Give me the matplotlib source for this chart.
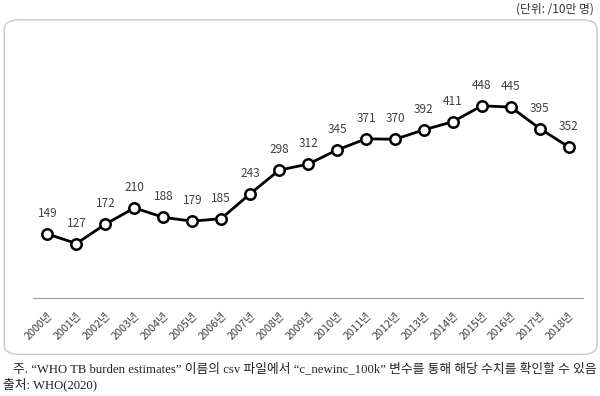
import matplotlib.pyplot as plt
from matplotlib.patches import FancyBboxPatch

plt.rcParams['font.family'] = ['Noto Sans CJK KR', 'DejaVu Sans']

years = [f"{y}년" for y in range(2000, 2019)]
values = [149, 127, 172, 210, 188, 179, 185, 243, 298, 312, 345, 371, 370, 392, 411, 448, 445, 395, 352]

fig = plt.figure(figsize=(6, 3.96), dpi=100)

# rounded frame around the chart (kept behind the axes)
box = FancyBboxPatch((0.007, 0.105), 0.988, 0.845, boxstyle="round,pad=0,rounding_size=0.025",
                     transform=fig.transFigure, facecolor="white", edgecolor="#c8c8c8",
                     linewidth=1.0, zorder=-5)
fig.patches.append(box)

ax = fig.add_axes([0.055, 0.2475, 0.917, 0.65], zorder=2)
x = list(range(len(values)))
ax.plot(x, values, color="black", linewidth=2, marker="o", markersize=7.5,
        markerfacecolor="white", markeredgecolor="black", markeredgewidth=1.8, zorder=3)
for xi, v in zip(x, values):
    ax.annotate(str(v), (xi, v), xytext=(0, 10), textcoords="offset points",
                ha="center", va="bottom", fontsize=8.5, color="#404040")

ax.set_xlim(-0.5, len(values) - 0.5)
ax.set_ylim(0, 600)
ax.set_xticks(x)
ax.set_xticklabels(years, rotation=45, ha="right", rotation_mode="anchor", fontsize=7.8, color="#404040")
ax.tick_params(axis="x", length=0, pad=9)
ax.set_yticks([])
for side in ["top", "right", "left"]:
    ax.spines[side].set_visible(False)
ax.spines["bottom"].set_color("#a0a0a0")
ax.patch.set_alpha(0)

fig.text(0.99, 0.978, "(단위: /10만 명)", ha="right", va="center", fontsize=8.5, color="#333333")
note_font = ['Liberation Serif', 'Noto Sans CJK KR']
fig.text(0.022, 0.068, "주. “WHO TB burden estimates” 이름의 csv 파일에서 “c_newinc_100k” 변수를 통해 해당 수치를 확인할 수 있음",
         ha="left", va="center", fontsize=9.2, family=note_font, color="#222222")
fig.text(0.005, 0.028, "출처: WHO(2020)", ha="left", va="center", fontsize=9.2, family=note_font, color="#222222")

fig.savefig("out.png", dpi=100)
